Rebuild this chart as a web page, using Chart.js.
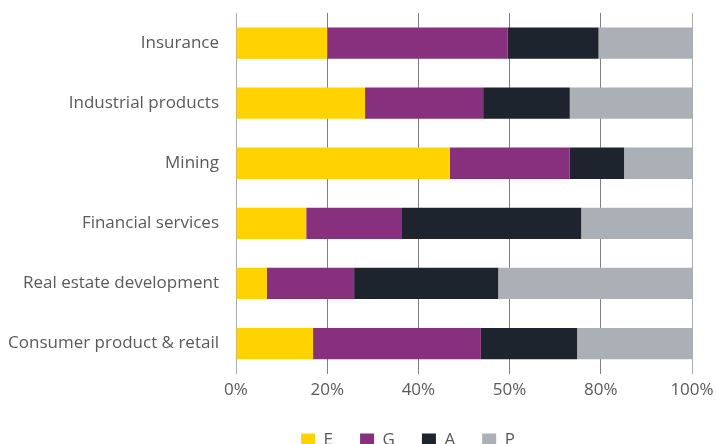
<!DOCTYPE html>
<html>
<head>
<meta charset="utf-8">
<script src="https://cdn.jsdelivr.net/npm/chart.js@4/dist/chart.umd.min.js"></script>
<style>
  html, body { margin: 0; padding: 0; background: #fff; overflow: hidden; }
  /* canvas runs a little past the window so the legend gets cut off like the original */
  #wrap { position: relative; width: 716px; height: 460px; }
</style>
</head>
<body>
<div id="wrap"><canvas id="chart"></canvas></div>
<script>
// sectors, top to bottom
const sectors = [
  "Insurance",
  "Industrial products",
  "Mining",
  "Financial services",
  "Real estate development",
  "Consumer product & retail"
]

// share of each rating per sector (%)
const eValues = [20.0, 28.3, 46.9, 15.4, 6.8, 16.9]
const gValues = [39.6, 25.9, 26.3, 21.0, 19.1, 36.8]
const aValues = [19.9, 19.0, 11.9, 39.3, 31.6, 21.1]
const pValues = [20.5, 26.8, 14.9, 24.3, 42.5, 25.2]

// tick labels as printed on the original (the 60% line is labelled 50%)
const tickLabels = ["0%", "20%", "40%", "50%", "80%", "100%"]

const textColor = "#5a5a5a"
const fontFamily = "'Open Sans', 'DejaVu Sans', sans-serif"

// nudge the legend to where it sits in the original
const legendShift = {
  id: "legendShift",
  afterLayout(chart) {
    const lg = chart.legend
    lg.left += 62
    lg.right += 62
    lg.top -= 1
    lg.bottom -= 1
  }
}

new Chart(document.getElementById("chart"), {
  type: "bar",
  data: {
    labels: sectors,
    datasets: [
      { label: "E", data: eValues, backgroundColor: "#ffd200" },
      { label: "G", data: gValues, backgroundColor: "#87307d" },
      { label: "A", data: aValues, backgroundColor: "#1d242e" },
      { label: "P", data: pValues, backgroundColor: "#aab0b5" }
    ]
  },
  plugins: [legendShift],
  options: {
    indexAxis: "y",
    responsive: true,
    maintainAspectRatio: false,
    animation: false,
    datasets: {
      bar: { categoryPercentage: 0.52, barPercentage: 1.0, borderWidth: 0 }
    },
    layout: { padding: { top: 13, right: 24, left: 0, bottom: 0 } },
    plugins: {
      tooltip: { enabled: false },
      legend: {
        position: "bottom",
        labels: {
          color: textColor,
          font: { family: fontFamily, size: 17 },
          boxWidth: 14,
          boxHeight: 14,
          padding: 27
        }
      }
    },
    scales: {
      x: {
        stacked: true,
        min: 0,
        max: 100,
        border: { display: false },
        grid: {
          color: (ctx) => (ctx.index === 0 || ctx.index === tickLabels.length - 1) ? "#ababab" : "#808080",
          lineWidth: 1,
          drawTicks: false
        },
        ticks: {
          stepSize: 20,
          padding: 6,
          color: textColor,
          font: { family: fontFamily, size: 17 },
          callback: (v, i) => tickLabels[i]
        },
        afterFit: (s) => { s.paddingLeft = 0; s.paddingRight = 0 }
      },
      y: {
        stacked: true,
        border: { display: false },
        grid: { display: false, drawTicks: false },
        ticks: {
          padding: 17,
          color: textColor,
          font: { family: fontFamily, size: 17 }
        },
        afterFit: (s) => {
          s.width = 236
          s.paddingTop = 0
          s.paddingBottom = 0
        }
      }
    }
  }
})
</script>
</body>
</html>
